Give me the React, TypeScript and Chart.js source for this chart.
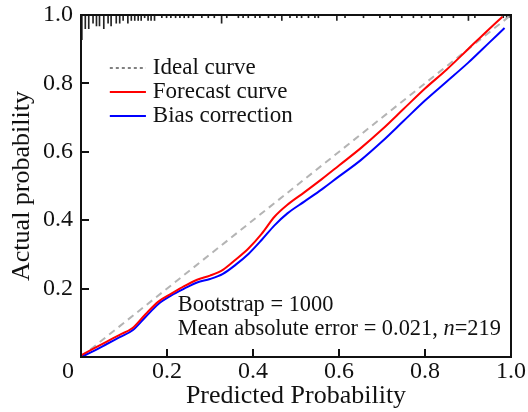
import React, { useEffect, useRef } from 'react';
import { Chart, registerables } from 'chart.js';

Chart.register(...registerables);

// ---- data ----
const idealX = [0, 1];
const idealY = [0, 1];

const forecastX = [0, 0.03, 0.06, 0.09, 0.12, 0.15, 0.18, 0.21, 0.24, 0.27, 0.30, 0.33, 0.36, 0.39, 0.42, 0.45, 0.48, 0.52, 0.56, 0.60, 0.65, 0.70, 0.75, 0.80, 0.85, 0.90, 0.95, 0.98];
const forecastY = [0.005, 0.025, 0.045, 0.065, 0.085, 0.125, 0.162, 0.185, 0.207, 0.226, 0.238, 0.255, 0.285, 0.318, 0.36, 0.41, 0.445, 0.482, 0.52, 0.56, 0.61, 0.665, 0.725, 0.785, 0.84, 0.90, 0.96, 0.995];

const biasX = [0, 0.03, 0.06, 0.09, 0.12, 0.15, 0.18, 0.21, 0.24, 0.27, 0.30, 0.33, 0.36, 0.39, 0.42, 0.45, 0.48, 0.52, 0.56, 0.60, 0.65, 0.70, 0.75, 0.80, 0.85, 0.90, 0.95, 0.985];
const biasY = [0.0, 0.018, 0.038, 0.058, 0.078, 0.117, 0.155, 0.18, 0.2, 0.218, 0.228, 0.243, 0.27, 0.302, 0.342, 0.385, 0.42, 0.455, 0.49, 0.528, 0.575, 0.63, 0.69, 0.75, 0.805, 0.86, 0.92, 0.962];

// rug of predicted probabilities along the top (position, relative count)
const rugX = [0.002, 0.010, 0.018, 0.028, 0.036, 0.043, 0.053, 0.063, 0.070, 0.082, 0.090, 0.098, 0.109, 0.117, 0.125, 0.133, 0.140, 0.148, 0.156, 0.163, 0.171, 0.188, 0.199, 0.209, 0.220, 0.230, 0.240, 0.250, 0.261, 0.281, 0.296, 0.310, 0.327, 0.339, 0.366, 0.377, 0.389, 0.405, 0.416, 0.436, 0.451, 0.467, 0.486, 0.502, 0.513, 0.529, 0.544, 0.552, 0.595, 0.614, 0.657, 0.695, 0.719, 0.746, 0.773, 0.792, 0.812, 0.839, 0.866, 0.901, 0.916, 0.982, 0.990, 0.995];
const rugCount = [9, 5, 5, 3, 4, 4, 5, 3, 4, 3, 3, 2, 3, 2, 2, 2, 2, 1, 2, 2, 2, 1, 1, 1, 1, 1, 1, 1, 1, 1, 1, 1, 3, 1, 1, 1, 1, 1, 1, 1, 1, 2, 1, 1, 1, 1, 1, 1, 2, 1, 1, 1, 1, 1, 1, 1, 1, 1, 1, 2, 1, 1, 1, 1];
const rugUnit = 0.008;

const seriesLabels = ['Ideal curve', 'Forecast curve', 'Bias correction'];
const axisTicks = [0, 0.2, 0.4, 0.6, 0.8, 1.0];
const bootstrapText = 'Bootstrap = 1000';
const maeText = 'Mean absolute error = 0.021, ';
const nText = 'n';
const nValueText = '=219';
const xTitle = 'Predicted Probability';
const yTitle = 'Actual probability';

const SERIF = '"Liberation Serif", "Times New Roman", serif';
const INK = '#111111';

const overlayPlugin = {
  id: 'overlay',
  afterDatasetsDraw(chart: any) {
    const { ctx, chartArea: a, scales } = chart;
    const sx = scales.x;
    const sy = scales.y;
    ctx.save();
    // frame
    ctx.strokeStyle = INK;
    ctx.lineWidth = 2;
    ctx.setLineDash([]);
    ctx.strokeRect(a.left, a.top, a.right - a.left, a.bottom - a.top);

    // inward tick marks
    ctx.beginPath();
    sx.ticks.forEach((t: any) => {
      if (t.value <= 0 || t.value >= 1) return;
      const p = Math.round(sx.getPixelForValue(t.value));
      ctx.moveTo(p, a.bottom);
      ctx.lineTo(p, a.bottom - 8);
    });
    sy.ticks.forEach((t: any) => {
      if (t.value <= 0 || t.value >= 1) return;
      const p = Math.round(sy.getPixelForValue(t.value));
      ctx.moveTo(a.left, p);
      ctx.lineTo(a.left + 8, p);
    });
    ctx.stroke();

    // legend (Ideal, Forecast, Bias)
    const rows = [0.845, 0.775, 0.705];
    const ds = chart.data.datasets;
    const entries = seriesLabels.map((lab) => ds.find((d: any) => d.label === lab));
    ctx.font = `23px ${SERIF}`;
    ctx.textBaseline = 'middle';
    ctx.textAlign = 'left';
    entries.forEach((d: any, i: number) => {
      const yy = sy.getPixelForValue(rows[i]);
      ctx.beginPath();
      ctx.lineWidth = 2;
      if (i === 0) {
        ctx.setLineDash([3, 3]);
        ctx.strokeStyle = '#808080';
      } else {
        ctx.setLineDash([]);
        ctx.strokeStyle = d.borderColor;
      }
      ctx.moveTo(sx.getPixelForValue(0.067), yy);
      ctx.lineTo(sx.getPixelForValue(0.151), yy);
      ctx.stroke();
      ctx.fillStyle = INK;
      ctx.fillText(d.label, sx.getPixelForValue(0.167), yy);
    });
    ctx.setLineDash([]);

    // annotation
    ctx.font = `22.4px ${SERIF}`;
    const ax = sx.getPixelForValue(0.225);
    ctx.fillText(bootstrapText, ax, sy.getPixelForValue(0.152));
    const y2 = sy.getPixelForValue(0.082);
    ctx.fillText(maeText, ax, y2);
    let px = ax + ctx.measureText(maeText).width;
    ctx.font = `italic 22.4px ${SERIF}`;
    ctx.fillText(nText, px, y2);
    px += ctx.measureText(nText).width;
    ctx.font = `22.4px ${SERIF}`;
    ctx.fillText(nValueText, px, y2);

    // shared origin label
    ctx.font = `24px ${SERIF}`;
    ctx.textAlign = 'center';
    ctx.fillText('0', sx.getPixelForValue(0) - 13, sy.getPixelForValue(0) + 14.5);
    ctx.restore();
  },
};

export default function App() {
  const ref = useRef<HTMLCanvasElement | null>(null);
  useEffect(() => {
    if (!ref.current) return;
    const chart = new Chart(ref.current, {
      type: 'line',
      data: {
        datasets: [
          {
            label: seriesLabels[0],
            data: idealX.map((x, i) => ({ x, y: idealY[i] })),
            borderColor: '#b4b4b4',
            borderWidth: 2,
            borderDash: [7, 5],
            pointRadius: 0,
            order: 3,
          },
          {
            label: seriesLabels[2],
            data: biasX.map((x, i) => ({ x, y: biasY[i] })),
            borderColor: '#0000ff',
            borderWidth: 2,
            pointRadius: 0,
            cubicInterpolationMode: 'monotone',
            order: 2,
          },
          {
            label: seriesLabels[1],
            data: forecastX.map((x, i) => ({ x, y: forecastY[i] })),
            borderColor: '#ff0000',
            borderWidth: 2,
            pointRadius: 0,
            cubicInterpolationMode: 'monotone',
            order: 1,
          },
          {
            type: 'bar',
            label: 'rug',
            data: rugX.map((x, i) => ({ x, y: [1 - rugCount[i] * rugUnit, 1] })),
            backgroundColor: '#222222',
            borderWidth: 0,
            barThickness: 1,
            grouped: false,
            order: 4,
          } as any,
        ],
      },
      options: {
        animation: false,
        responsive: false,
        layout: { padding: { top: 15, right: 17, left: 0, bottom: 0 } },
        plugins: { legend: { display: false }, tooltip: { enabled: false } },
        scales: {
          x: {
            type: 'linear',
            min: 0,
            max: 1,
            offset: false,
            afterBuildTicks: (s: any) => {
              s.ticks = axisTicks.map((v) => ({ value: v }));
            },
            afterFit: (s: any) => {
              s.height = 55;
              s.paddingLeft = 0;
              s.paddingRight = 0;
            },
            border: { display: false },
            grid: { display: false, drawTicks: false, offset: false },
            ticks: {
              padding: 0,
              maxRotation: 0,
              autoSkip: false,
              color: INK,
              font: { family: SERIF, size: 24 },
              callback: (v: any) => (Number(v) === 0 ? '' : Number(v).toFixed(1)),
            },
            title: { display: true, text: xTitle, color: INK, font: { family: SERIF, size: 26 }, padding: { top: 0, bottom: 0 } },
          },
          y: {
            type: 'linear',
            min: 0,
            max: 1,
            afterBuildTicks: (s: any) => {
              s.ticks = axisTicks.map((v) => ({ value: v }));
            },
            afterFit: (s: any) => {
              s.width = 81;
              s.paddingTop = 0;
              s.paddingBottom = 0;
            },
            border: { display: false },
            grid: { display: false, drawTicks: false },
            ticks: {
              padding: 8,
              color: INK,
              font: { family: SERIF, size: 24 },
              callback: (v: any) => (Number(v) === 0 ? '' : Number(v).toFixed(1)),
            },
            title: { display: true, text: yTitle, color: INK, font: { family: SERIF, size: 26 }, padding: { top: 7, bottom: 0 } },
          },
        },
      },
      plugins: [overlayPlugin],
    } as any);
    return () => chart.destroy();
  }, []);
  return (
    <div style={{ position: 'fixed', left: 0, top: 0, width: 528, height: 412, background: '#fff' }}>
      <canvas ref={ref} width={528} height={412} style={{ display: 'block' }} />
    </div>
  );
}
